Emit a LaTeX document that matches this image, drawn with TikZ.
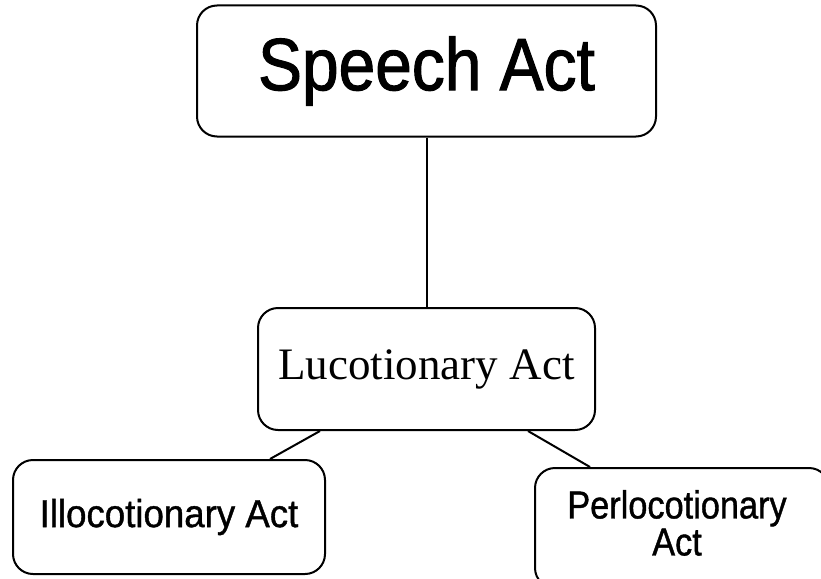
\documentclass[tikz,border=0pt]{standalone}
\usepackage{fontspec}
\setmainfont{Liberation Serif}
\newfontfamily\speechfont[FakeStretch=0.89,FakeBold=1.4]{Liberation Sans}
\newfontfamily\illofont[FakeStretch=0.94,FakeBold=1]{Liberation Sans}
\newfontfamily\perlofont[FakeStretch=0.88,FakeBold=1]{Liberation Sans}
\usetikzlibrary{calc}
\begin{document}
\begin{tikzpicture}[x=1pt,y=-1pt,
  box/.style={draw=black,line width=2pt,rounded corners=20pt,inner sep=0pt},
  link/.style={draw=black,line width=2pt}]
\useasboundingbox (0,0) rectangle (821,578);
\node[box,minimum width=459pt,minimum height=131pt,
  font=\speechfont\fontsize{74}{80}\selectfont] (speech) at (426.5,71) {Speech Act};
\node[box,minimum width=337pt,minimum height=122pt,
  font=\fontsize{45}{50}\selectfont] (luco) at (426.5,369) {Lucotionary Act};
\node[box,minimum width=312pt,minimum height=114pt,
  font=\illofont\fontsize{39}{44}\selectfont] (illo) at (169,517) {Illocotionary Act};
\node[box,minimum width=294pt,minimum height=120pt] (perlo) at (682,528) {};
\node[align=center,inner sep=0pt,font=\perlofont\fontsize{39}{37}\selectfont]
  (perlotext) at (677,523) {Perlocotionary\\Act};
\draw[link] (speech.south) -- (luco.north);
\draw[link] ([xshift=-106.5pt]luco.south) -- ([xshift=101pt]illo.north);
\draw[link] ([xshift=101.5pt]luco.south) -- ([xshift=-92pt]perlo.north);
\end{tikzpicture}
\end{document}
